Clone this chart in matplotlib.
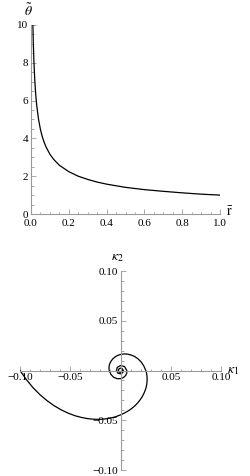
import matplotlib
matplotlib.use("Agg")
import matplotlib.pyplot as plt
from matplotlib.ticker import MultipleLocator, FixedLocator

# Top panel: theta~ against r-bar
r_vals = [0.01, 0.012, 0.015, 0.02, 0.025, 0.03, 0.04, 0.05, 0.06, 0.07,
          0.08, 0.1, 0.12, 0.15, 0.2, 0.25, 0.3, 0.35, 0.4, 0.5,
          0.6, 0.7, 0.8, 0.9, 1.0]
theta_vals = [10.0, 9.13, 8.16, 7.07, 6.32, 5.77, 5.0, 4.47, 4.08, 3.78,
              3.54, 3.16, 2.89, 2.58, 2.24, 2.0, 1.83, 1.69, 1.58, 1.41,
              1.29, 1.20, 1.12, 1.05, 1.0]

# Bottom panel: spiral in the (kappa1, kappa2) plane
kappa1 = [-0.1000, -0.0936, -0.0870, -0.0801, -0.0731, -0.0661, -0.0591,
          -0.0522, -0.0454, -0.0388, -0.0324, -0.0262, -0.0203, -0.0147,
          -0.0095, -0.0046, 0.0, 0.0042, 0.0080, 0.0115, 0.0146, 0.0173,
          0.0196, 0.0216, 0.0232, 0.0245, 0.0255, 0.0261, 0.0264, 0.0265,
          0.0263, 0.0259, 0.0252, 0.0232, 0.0206, 0.0175, 0.0141, 0.0105,
          0.0068, 0.0033, 0.0, -0.0030, -0.0056, -0.0078, -0.0094, -0.0106,
          -0.0113, -0.0115, -0.0112, -0.0095, -0.0068, -0.0034, 0.0,
          0.0029, 0.0051, 0.0062, 0.0063, 0.0040, 0.0, -0.0032, -0.0040,
          -0.0026, 0.0, 0.0022, 0.0028, 0.0018, 0.0, -0.0016, -0.0021,
          -0.0014, 0.0, 0.0012, 0.0016]
kappa2 = [0.0, -0.0092, -0.0173, -0.0243, -0.0303, -0.0353, -0.0395,
          -0.0428, -0.0454, -0.0472, -0.0484, -0.0490, -0.0491, -0.0486,
          -0.0477, -0.0464, -0.0446, -0.0426, -0.0404, -0.0379, -0.0352,
          -0.0323, -0.0294, -0.0263, -0.0232, -0.0201, -0.0170, -0.0140,
          -0.0109, -0.0080, -0.0052, -0.0025, 0.0, 0.0046, 0.0085, 0.0117,
          0.0141, 0.0156, 0.0165, 0.0167, 0.0161, 0.0151, 0.0135, 0.0116,
          0.0094, 0.0071, 0.0047, 0.0023, 0.0, -0.0040, -0.0068, -0.0082,
          -0.0082, -0.0071, -0.0051, -0.0026, 0.0, 0.0040, 0.0050, 0.0032,
          0.0, -0.0026, -0.0033, -0.0022, 0.0, 0.0018, 0.0024, 0.0016, 0.0,
          -0.0014, -0.0018, -0.0012, 0.0]

k_ticks = [-0.10, -0.05, 0.05, 0.10]
k_labels = ["\u22120.10", "\u22120.05", "0.05", "0.10"]

plt.rcParams['font.family'] = ['Liberation Serif', 'DejaVu Serif']
plt.rcParams['mathtext.fontset'] = 'stix'

axis_grey = '#9a9a9a'
fs = 8

fig = plt.figure(figsize=(2.5, 4.76), dpi=100)


def style_axes(ax):
    for side in ['top', 'right']:
        ax.spines[side].set_visible(False)
    for side in ['left', 'bottom']:
        ax.spines[side].set_color(axis_grey)
        ax.spines[side].set_linewidth(0.8)
    ax.tick_params(which='both', direction='in', color=axis_grey,
                   labelsize=fs, width=0.6, pad=2)
    ax.tick_params(which='major', length=3.5)
    ax.tick_params(which='minor', length=1.8)
    ax.patch.set_visible(False)


# ---- top panel
ax1 = fig.add_axes([0.124, 0.5504, 0.756, 0.3971])
ax1.plot(r_vals, theta_vals, color='black', lw=0.9)
ax1.set_xlim(0, 1.0)
ax1.set_ylim(0, 10)
style_axes(ax1)
ax1.tick_params(axis='x', pad=3.5)
ax1.xaxis.set_major_locator(MultipleLocator(0.2))
ax1.xaxis.set_minor_locator(MultipleLocator(0.05))
ax1.yaxis.set_major_locator(MultipleLocator(2))
ax1.yaxis.set_minor_locator(MultipleLocator(0.5))
ax1.set_xticklabels([f"{v:.1f}" for v in ax1.get_xticks()])
ax1.annotate(r'$\tilde{\theta}$', xy=(0, 1), xycoords='axes fraction',
             xytext=(-1.5, 10), textcoords='offset points',
             ha='center', va='center', fontsize=10)
ax1.annotate(r'$\bar{\mathrm{r}}$', xy=(1, 0), xycoords='axes fraction',
             xytext=(4, 1), textcoords='offset points',
             ha='left', va='center', fontsize=10)

# ---- bottom panel
ax2 = fig.add_axes([0.08, 0.0126, 0.804, 0.418])
ax2.plot(kappa1, kappa2, color='black', lw=0.9, solid_joinstyle='round')
ax2.set_xlim(-0.1, 0.1)
ax2.set_ylim(-0.1, 0.1)
style_axes(ax2)
ax2.spines['left'].set_position('zero')
ax2.spines['bottom'].set_position('zero')
ax2.xaxis.set_major_locator(FixedLocator(k_ticks))
ax2.xaxis.set_minor_locator(MultipleLocator(0.01))
ax2.set_xticklabels(k_labels)
ax2.yaxis.set_major_locator(FixedLocator(k_ticks))
ax2.yaxis.set_minor_locator(MultipleLocator(0.01))
ax2.set_yticklabels(k_labels)
ax2.annotate(r'$\kappa_2$', xy=(0.5, 1), xycoords='axes fraction',
             xytext=(-2, 10), textcoords='offset points',
             ha='center', va='center', fontsize=10)
ax2.annotate(r'$\kappa_1$', xy=(1, 0.5), xycoords='axes fraction',
             xytext=(9, 0), textcoords='offset points',
             ha='center', va='center', fontsize=10)

fig.savefig('out.png', dpi=100)
